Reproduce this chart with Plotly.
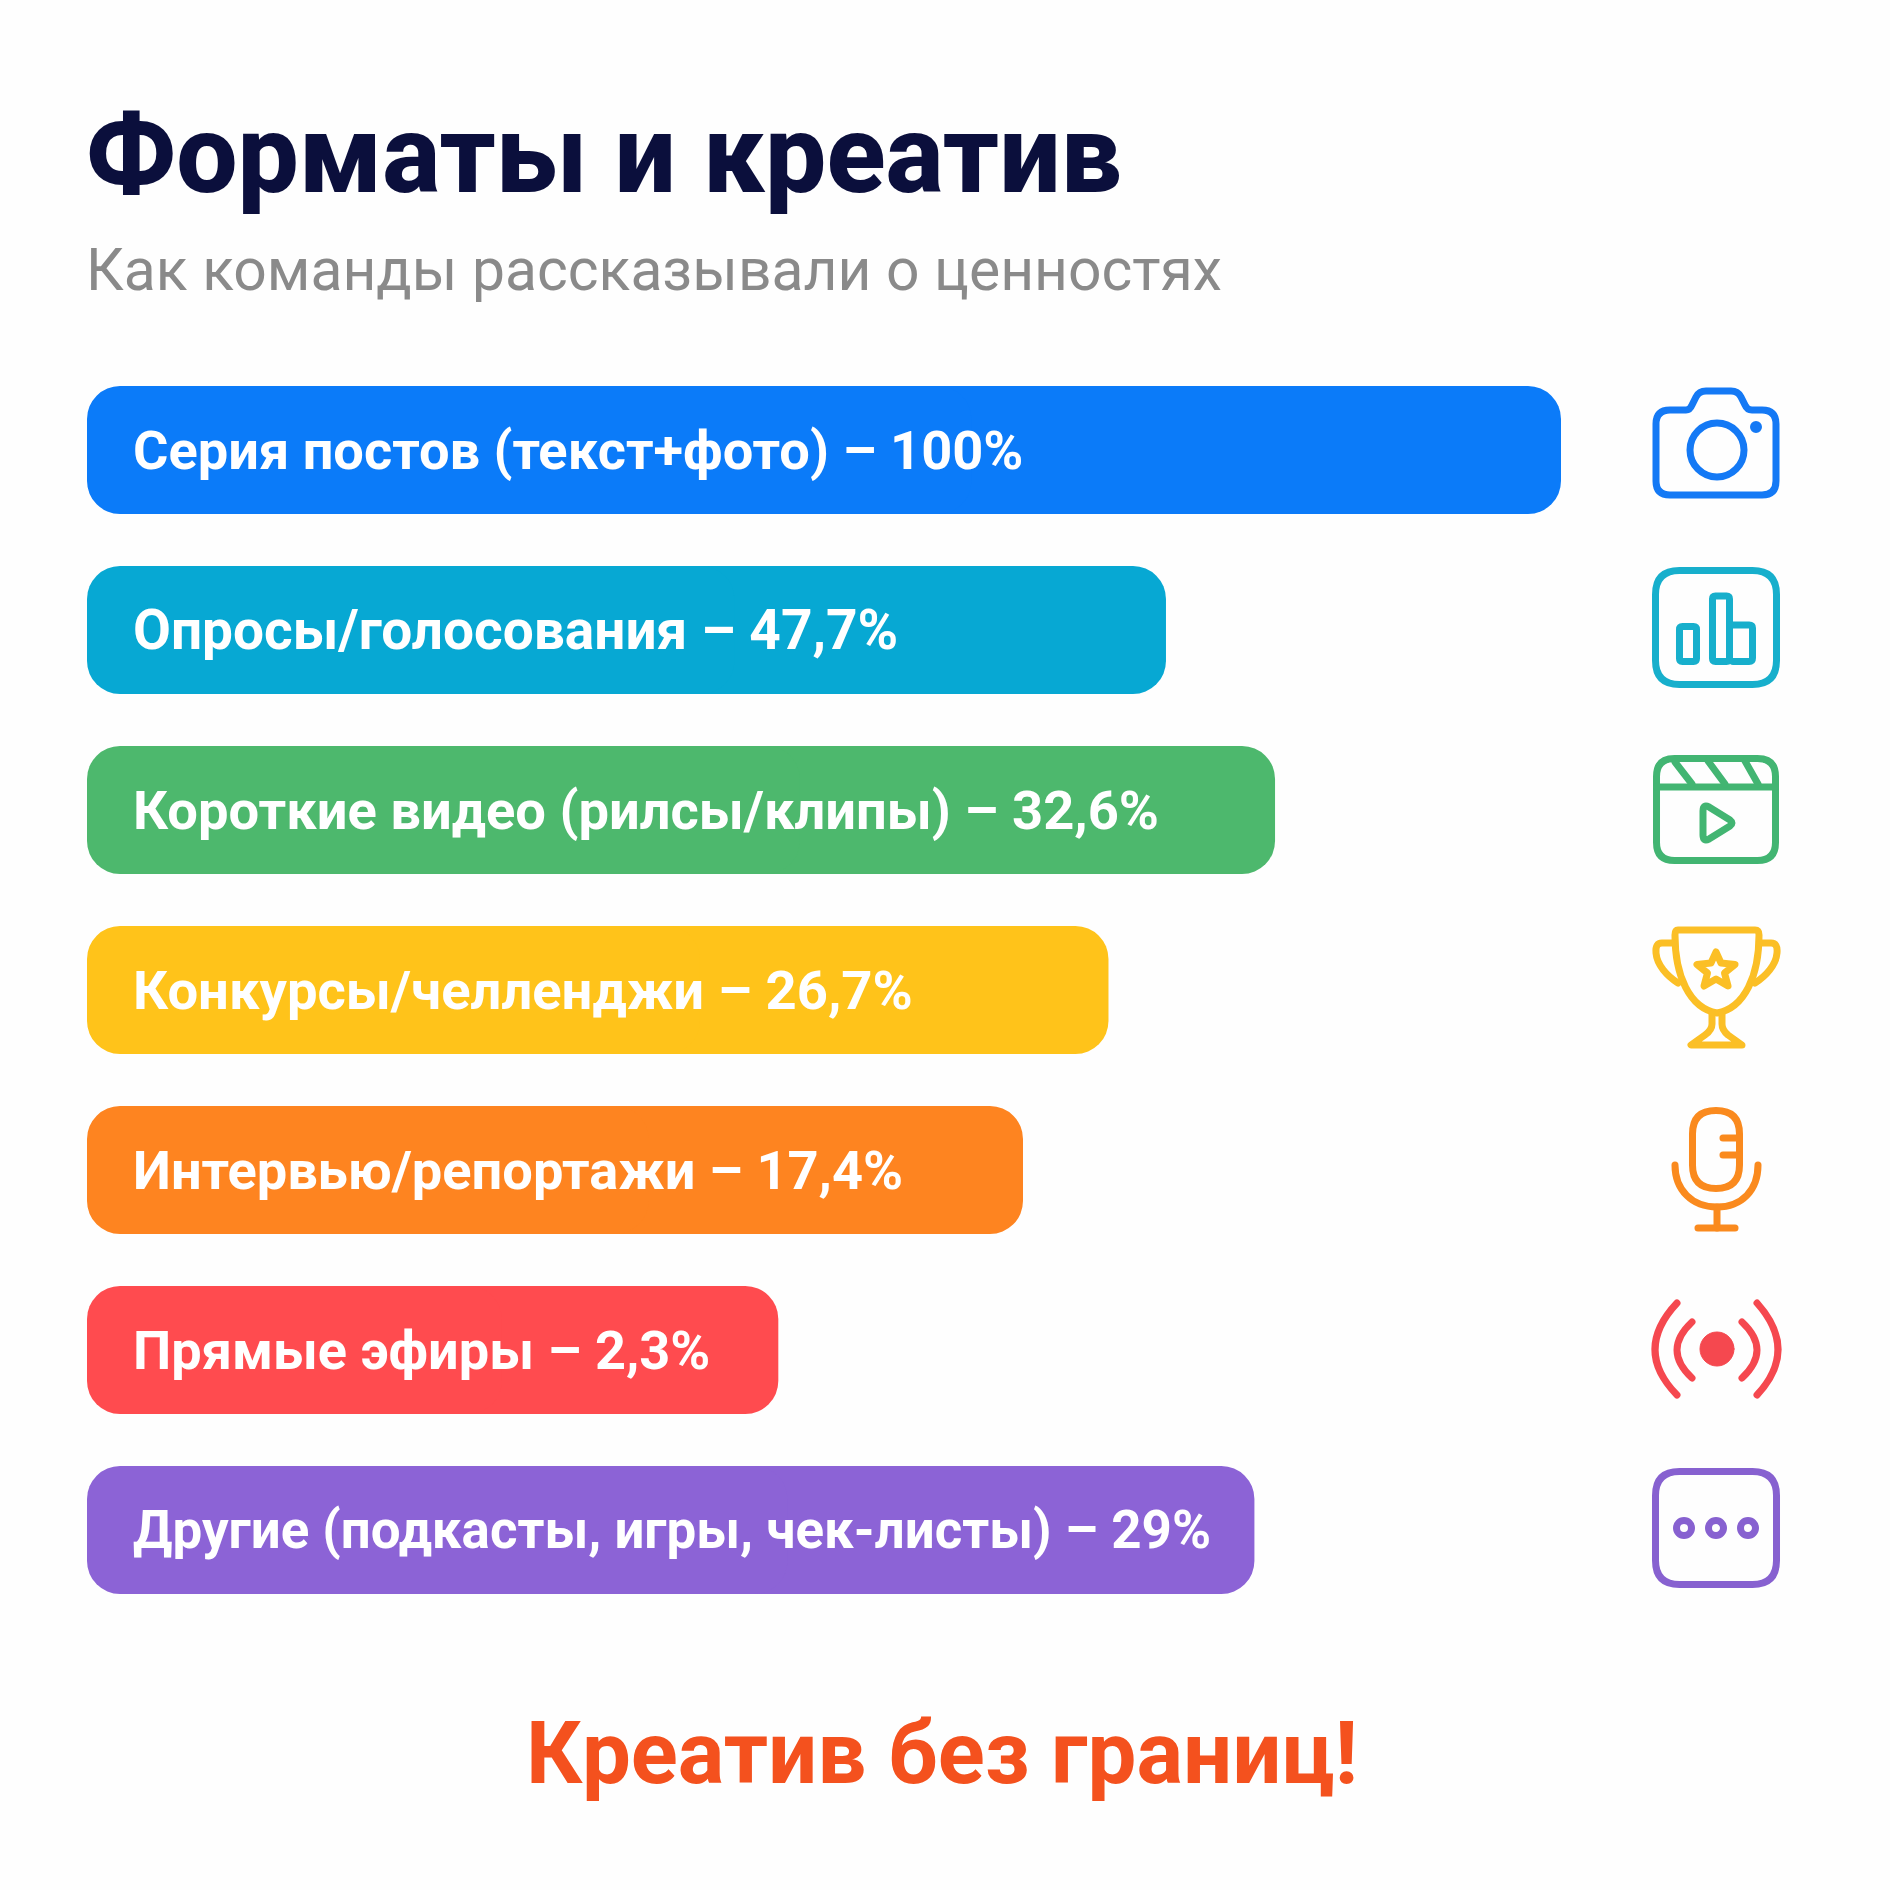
import re
import plotly.graph_objects as go

SIZE = 1890

categories = ["Серия постов (текст+фото)", "Опросы/голосования", "Короткие видео (рилсы/клипы)",
              "Конкурсы/челленджи", "Интервью/репортажи", "Прямые эфиры",
              "Другие (подкасты, игры, чек-листы)"]
value_labels = ["100%", "47,7%", "32,6%", "26,7%", "17,4%", "2,3%", "29%"]
# длина полос на картинке не пропорциональна подписям, поэтому читаем её отдельно
bar_lengths = [100, 73.2, 80.6, 69.3, 63.5, 46.9, 79.2]
bar_colors = ["#0B7BF9", "#07A8D3", "#4DB86D", "#FFC31A", "#FE8420", "#FF4B4F", "#8C63D6"]
icon_colors = ["#1479F5", "#17AFCC", "#42B572", "#FBBF26", "#FA8A1E", "#F5484F", "#8761D0"]
label_sizes = [54.2, 55, 54.3, 54.4, 54.2, 54.1, 52.9]


def px(x, y):
    return x / SIZE, 1 - y / SIZE


# пути иконок пишем в пикселях картинки, здесь переводим в paper
def path(d, color, width=7):
    d = re.sub(r"([\d.]+),([\d.]+)", lambda m: "%.5f,%.5f" % px(float(m[1]), float(m[2])), d)
    return dict(type="path", path=d, xref="paper", yref="paper",
                line=dict(color=color, width=width))


def circle(cx, cy, r, color, fill="rgba(0,0,0,0)", width=7):
    x0, y0 = px(cx - r, cy + r)
    x1, y1 = px(cx + r, cy - r)
    return dict(type="circle", xref="paper", yref="paper", x0=x0, y0=y0, x1=x1, y1=y1,
                fillcolor=fill, line=dict(color=color, width=width))


def round_rect(x0, y0, x1, y1, r):
    return (f"M{x0 + r},{y0} L{x1 - r},{y0} Q{x1},{y0} {x1},{y0 + r} L{x1},{y1 - r} Q{x1},{y1} {x1 - r},{y1} "
            f"L{x0 + r},{y1} Q{x0},{y1} {x0},{y1 - r} L{x0},{y0 + r} Q{x0},{y0} {x0 + r},{y0} Z")


c = icon_colors
shapes = [
    # камера
    path("M1672,410 L1686,410 Q1690,410 1692,405 L1696,397 Q1699,391 1706,391 L1731,391 Q1738,391 1741,397 "
         "L1745,405 Q1747,410 1752,410 L1762,410 Q1776,410 1776,424 L1776,481 Q1776,495 1762,495 L1670,495 "
         "Q1656,495 1656,481 L1656,424 Q1656,410 1670,410 Z", c[0]),
    circle(1717, 450, 27, c[0]),
    circle(1756, 427, 2.5, c[0], fill=c[0]),
    # столбики
    path(round_rect(1655.5, 570.5, 1776.5, 684.5, 24), c[1]),
    path(round_rect(1679.5, 626.5, 1696.5, 661.5, 3), c[1]),
    path(round_rect(1712.5, 596, 1729.5, 661.5, 3), c[1]),
    path("M1730,625 L1749,625 Q1752.5,625 1752.5,628 L1752.5,658 Q1752.5,661.5 1749,661.5 L1733,661.5", c[1]),
    # хлопушка
    path(round_rect(1656.5, 758.5, 1775.5, 860.5, 18), c[2]),
    path("M1656.5,787 L1775.5,787", c[2]),
    path("M1675,762 L1692,784", c[2]),
    path("M1708,761 L1725,784", c[2]),
    path("M1745,761 L1758,784", c[2]),
    path("M1703,811 Q1703,804 1709,807 L1730,820 Q1734,823 1730,826 L1709,839 Q1703,842 1703,835 Z", c[2]),
    # кубок
    path("M1678,930 L1755,930 Q1759,930 1759,935 C1759,975 1745,1008 1717,1013 C1689,1008 1675,975 1675,935 "
         "Q1675,930 1678,930 Z", c[3]),
    path("M1673,943 L1662,943 Q1655,943 1656,953 C1657,965 1667,976 1678,983", c[3]),
    path("M1760,943 L1771,943 Q1778,943 1777,953 C1776,965 1766,976 1755,983", c[3]),
    path("M1712,1014 L1712,1024 Q1712,1030 1705,1035 L1691,1045 L1742,1045 L1728,1035 Q1722,1030 1722,1024 L1722,1014", c[3]),
    path("M1716,952 L1721,963 L1735,964.5 L1724.5,973 L1728,986 L1716,979 L1704,986 L1707.5,973 L1697,964.5 L1711,963 Z",
         c[3], width=7),
    # микрофон
    path("M1692.5,1134 Q1692.5,1110.5 1716,1110.5 Q1739.5,1110.5 1739.5,1134 L1739.5,1165 "
         "Q1739.5,1188.5 1716,1188.5 Q1692.5,1188.5 1692.5,1165 Z", c[4]),
    path("M1723,1138 L1739,1138", c[4]),
    path("M1723,1155 L1739,1155", c[4]),
    path("M1675,1165 C1675,1190 1692,1207 1717,1207 C1742,1207 1758,1190 1758,1165", c[4]),
    path("M1717,1207 L1717,1228", c[4]),
    path("M1698,1228 L1735,1228", c[4]),
    # эфир
    circle(1717, 1349, 17, c[5], fill=c[5], width=1),
    path("M1692,1322 Q1662,1350 1692,1378", c[5]),
    path("M1742,1322 Q1772,1350 1742,1378", c[5]),
    path("M1677,1303 Q1633,1350 1677,1395", c[5]),
    path("M1757,1303 Q1799,1350 1757,1395", c[5]),
    # другое
    path(round_rect(1655.5, 1471.5, 1776.5, 1584.5, 24), c[6]),
    circle(1684, 1528, 7.5, c[6]),
    circle(1716, 1528, 7.5, c[6]),
    circle(1748, 1528, 7.5, c[6]),
]

FONT = "Roboto"
annotations = [
    dict(text="Форматы и креатив", x=84 / SIZE, y=px(0, 155)[1], font=dict(family=FONT, size=109, color="#0B0F3C", weight=800)),
    dict(text="Как команды рассказывали о ценностях", x=84 / SIZE, y=px(0, 270)[1], font=dict(family=FONT, size=58.8, color="#8A8A8A")),
]
annotations = [dict(a, xref="paper", yref="paper", xanchor="left", yanchor="middle", showarrow=False) for a in annotations]
annotations.append(dict(text="Креатив без границ!", x=942 / SIZE, y=px(0, 1753)[1], xref="paper", yref="paper",
                        xanchor="center", yanchor="middle", showarrow=False,
                        font=dict(family=FONT, size=87, color="#F4511E", weight=700)))
for cat, val, size in zip(categories, value_labels, label_sizes):
    annotations.append(dict(text=f"{cat} – {val}", x=0, y=cat, xref="x", yref="y", xanchor="left", yanchor="middle",
                            xshift=44, showarrow=False, font=dict(family=FONT, size=size, color="white", weight=700)))

# cornerradius скругляет только дальний конец, поэтому каждая полоса из двух половин, идущих от середины
right_base = [v / 2 for v in bar_lengths]
left_base = [v * 0.6 for v in bar_lengths]
fig = go.Figure()
fig.add_bar(x=right_base, base=right_base, y=categories, orientation="h", hoverinfo="skip",
            marker=dict(color=bar_colors, cornerradius=33, line_width=0))
fig.add_bar(x=[-v for v in left_base], base=left_base, y=categories, orientation="h", hoverinfo="skip",
            marker=dict(color=bar_colors, cornerradius=33, line_width=0))
fig.update_layout(width=SIZE, height=SIZE, margin=dict(l=0, r=0, t=0, b=0), autosize=False,
                  paper_bgcolor="#FEFEFE", plot_bgcolor="rgba(0,0,0,0)", showlegend=False,
                  barmode="overlay", bargap=1 - 128 / 180, shapes=shapes, annotations=annotations)
fig.update_xaxes(domain=[87 / SIZE, 1561 / SIZE], range=[0, 100], visible=False)
fig.update_yaxes(domain=[1 - 1620 / SIZE, 1 - 360 / SIZE], autorange="reversed", visible=False)
page_css = ("document.body.style.margin='0';"
            "var s=document.createElement('style');"
            "s.textContent='.shapelayer path{stroke-linejoin:round;stroke-linecap:round}';"
            "document.head.appendChild(s);")
fig.write_html("out.html", config={"displayModeBar": False}, post_script=page_css)
